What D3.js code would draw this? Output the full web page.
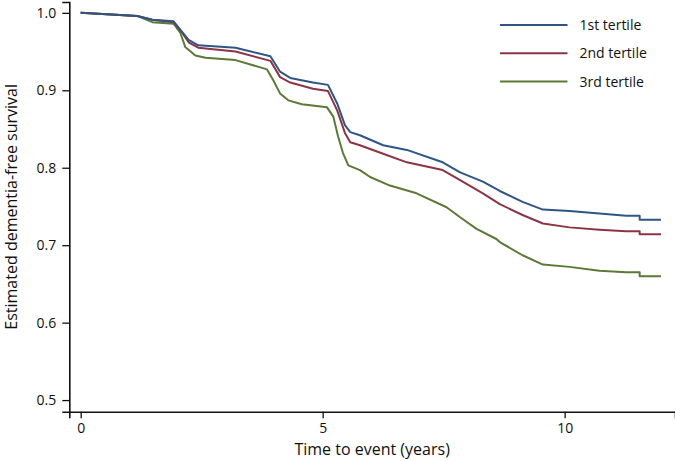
<!DOCTYPE html>
<html>
<head>
<meta charset="utf-8">
<script src="https://cdn.jsdelivr.net/npm/d3@7"></script>
<style>
  body { margin: 0; background: #fff; }
  text { font-family: "Open Sans", sans-serif; fill: #111; }
</style>
</head>
<body>
<div id="chart-area"></div>
<script>
// Kaplan-Meier style curves
const seriesNames = ["1st tertile", "2nd tertile", "3rd tertile"]
const seriesColors = ["#2d5686", "#8c3446", "#5a7a35"]

const t1Time = [0, 1.17, 1.48, 1.92, 2.10, 2.23, 2.43, 3.20, 3.92, 4.12, 4.33, 4.80, 5.11, 5.30, 5.46, 5.57, 5.77, 6.25, 6.74, 7.48, 7.84, 8.31, 8.66, 9.13, 9.55, 10.10, 10.72, 11.27, 11.55, 11.55, 11.99]
const t1Surv = [1.000, 0.996, 0.991, 0.989, 0.975, 0.965, 0.958, 0.955, 0.944, 0.924, 0.916, 0.910, 0.907, 0.883, 0.855, 0.846, 0.842, 0.829, 0.823, 0.807, 0.794, 0.782, 0.770, 0.756, 0.746, 0.744, 0.741, 0.738, 0.738, 0.733, 0.733]

const t2Time = [0, 1.17, 1.48, 1.92, 2.10, 2.23, 2.43, 3.20, 3.92, 4.12, 4.33, 4.80, 5.11, 5.30, 5.46, 5.57, 5.77, 6.25, 6.74, 7.48, 7.84, 8.31, 8.66, 9.13, 9.55, 10.10, 10.72, 11.27, 11.55, 11.55, 11.99]
const t2Surv = [1.000, 0.996, 0.991, 0.988, 0.974, 0.962, 0.955, 0.950, 0.938, 0.917, 0.910, 0.902, 0.899, 0.874, 0.845, 0.833, 0.829, 0.818, 0.807, 0.797, 0.784, 0.767, 0.753, 0.739, 0.728, 0.723, 0.720, 0.718, 0.718, 0.714, 0.714]

const t3Time = [0, 1.17, 1.48, 1.92, 2.06, 2.16, 2.37, 2.58, 3.20, 3.85, 3.98, 4.12, 4.29, 4.57, 5.09, 5.22, 5.32, 5.42, 5.53, 5.77, 5.98, 6.39, 6.94, 7.56, 7.84, 8.18, 8.59, 8.66, 9.13, 9.55, 10.10, 10.72, 11.27, 11.55, 11.55, 11.99]
const t3Surv = [1.000, 0.996, 0.988, 0.986, 0.974, 0.956, 0.945, 0.942, 0.939, 0.927, 0.913, 0.896, 0.887, 0.882, 0.878, 0.866, 0.840, 0.819, 0.803, 0.797, 0.788, 0.777, 0.767, 0.749, 0.736, 0.721, 0.708, 0.704, 0.687, 0.675, 0.672, 0.667, 0.665, 0.665, 0.660, 0.660]

const xTicks = [0, 5, 10]
const yTicks = [0.5, 0.6, 0.7, 0.8, 0.9, 1.0]

const W = 675, H = 461
const plot = { left: 69.3, right: 675, top: 2, bottom: 411.7 }

const svg = d3.select("#chart-area")
  .append("svg")
    .attr("width", W)
    .attr("height", H)

const x = d3.scaleLinear()
  .domain([-0.235, 12.28])
  .range([plot.left, plot.right])

const y = d3.scaleLinear()
  .domain([0.485, 1.014])
  .range([plot.bottom, plot.top])

// Axes
const xAxisCall = d3.axisBottom(x)
  .tickValues(xTicks)
  .tickFormat(d3.format("d"))
  .tickSizeOuter(0)
  .tickSize(6.5)
  .tickPadding(5)

const yAxisCall = d3.axisLeft(y)
  .tickValues(yTicks)
  .tickFormat(d3.format(".1f"))
  .tickSizeOuter(0)
  .tickSize(7)
  .tickPadding(6)

const xAxisGroup = svg.append("g")
  .attr("transform", `translate(0, ${plot.bottom})`)
  .call(xAxisCall)

const yAxisGroup = svg.append("g")
  .attr("transform", `translate(${plot.left}, 0)`)
  .call(yAxisCall)

;[xAxisGroup, yAxisGroup].forEach(g => {
  g.selectAll("path.domain").attr("stroke", "#111").attr("stroke-width", 1.6)
  g.selectAll(".tick line").attr("stroke", "#111").attr("stroke-width", 1.3)
  g.selectAll(".tick text")
    .attr("font-family", "Open Sans")
    .attr("font-size", "14px")
    .attr("fill", "#111")
})

// Axis titles
svg.append("text")
  .attr("x", (plot.left + plot.right) / 2)
  .attr("y", 455)
  .attr("text-anchor", "middle")
  .attr("font-size", "16px")
  .text("Time to event (years)")

svg.append("text")
  .attr("transform", `translate(17, ${(plot.top + plot.bottom) / 2}) rotate(-90)`)
  .attr("text-anchor", "middle")
  .attr("font-size", "16px")
  .text("Estimated dementia-free survival")

// Curves
const series = [
  { name: seriesNames[0], time: t1Time, surv: t1Surv },
  { name: seriesNames[1], time: t2Time, surv: t2Surv },
  { name: seriesNames[2], time: t3Time, surv: t3Surv }
]

const line = d3.line()
  .x(d => x(d[0]))
  .y(d => y(d[1]))

// draw 3rd first so 1st sits on top, like the picture
series.slice().reverse().forEach(s => {
  const i = seriesNames.indexOf(s.name)
  svg.append("path")
    .datum(d3.zip(s.time, s.surv))
    .attr("fill", "none")
    .attr("stroke", seriesColors[i])
    .attr("stroke-width", 2)
    .attr("stroke-linejoin", "round")
    .attr("d", line)
})

// Legend
const legend = svg.append("g")
  .attr("transform", "translate(500, 25)")

seriesNames.forEach((name, i) => {
  const row = legend.append("g")
    .attr("transform", `translate(0, ${i * 28.3})`)

  row.append("line")
    .attr("x1", 0)
    .attr("x2", 67.5)
    .attr("stroke", seriesColors[i])
    .attr("stroke-width", 2)

  row.append("text")
    .attr("x", 79.5)
    .attr("y", 5)
    .attr("font-size", "14px")
    .text(name)
})
</script>
</body>
</html>
